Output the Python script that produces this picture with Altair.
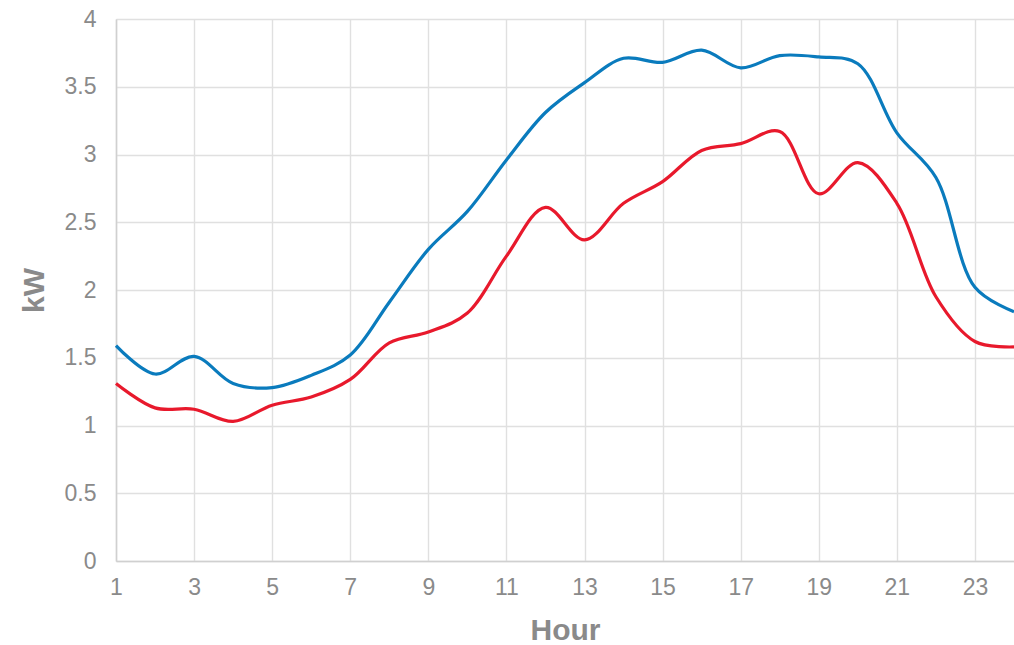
import altair as alt
import pandas as pd

# Hourly load profiles (kW)
hours = list(range(1, 25))
upper_kw = [1.59, 1.38, 1.51, 1.31, 1.28, 1.37, 1.52, 1.91, 2.30, 2.58, 2.96, 3.31,
            3.53, 3.71, 3.68, 3.77, 3.64, 3.73, 3.72, 3.67, 3.16, 2.83, 2.02, 1.84]
lower_kw = [1.31, 1.13, 1.12, 1.03, 1.15, 1.21, 1.34, 1.61, 1.69, 1.83, 2.25, 2.61,
            2.37, 2.64, 2.80, 3.03, 3.08, 3.17, 2.71, 2.94, 2.64, 1.95, 1.62, 1.58]

series_names = ["Profile 1", "Profile 2"]
series_colors = ["#0a7bbd", "#e8192c"]
x_ticks = list(range(1, 24, 2))
y_ticks = [0, 0.5, 1, 1.5, 2, 2.5, 3, 3.5, 4]

df = pd.concat([
    pd.DataFrame({"Hour": hours, "kW": upper_kw, "series": series_names[0]}),
    pd.DataFrame({"Hour": hours, "kW": lower_kw, "series": series_names[1]}),
])

label_color = "#8a8a8a"
grid_color = "#e0e0e0"

chart = (
    alt.Chart(df)
    .mark_line(interpolate="catmull-rom", strokeWidth=3.2, clip=False)
    .encode(
        x=alt.X(
            "Hour:Q",
            scale=alt.Scale(domain=[1, 24], nice=False, zero=False),
            axis=alt.Axis(
                values=x_ticks,
                title="Hour",
                ticks=False,
                labelPadding=15,
                titlePadding=16,
                domainColor="#d0d0d0",
                domainWidth=1.5,
                labelFlush=False,
            ),
        ),
        y=alt.Y(
            "kW:Q",
            scale=alt.Scale(domain=[0, 4], nice=False),
            axis=alt.Axis(
                values=y_ticks,
                title="kW",
                ticks=False,
                labelPadding=20,
                titlePadding=15,
                domainColor="#d0d0d0",
                domainWidth=1.5,
                labelExpr="datum.value",
            ),
        ),
        color=alt.Color(
            "series:N",
            scale=alt.Scale(domain=series_names, range=series_colors),
            legend=None,
        ),
        order=alt.Order("Hour:Q"),
    )
    .properties(
        width=898,
        height=542,
        autosize=alt.AutoSizeParams(type="none"),
        padding={"left": 116, "top": 19, "right": 0, "bottom": 84},
    )
    .configure_view(stroke=None)
    .configure_axis(
        labelFont="Liberation Sans",
        labelFontSize=23,
        labelColor=label_color,
        titleFont="Liberation Sans",
        titleFontSize=30,
        titleFontWeight="bold",
        titleColor=label_color,
        gridColor=grid_color,
        gridWidth=1.4,
    )
)

chart.save("out.html", embed_options={"renderer": "svg", "actions": False})
